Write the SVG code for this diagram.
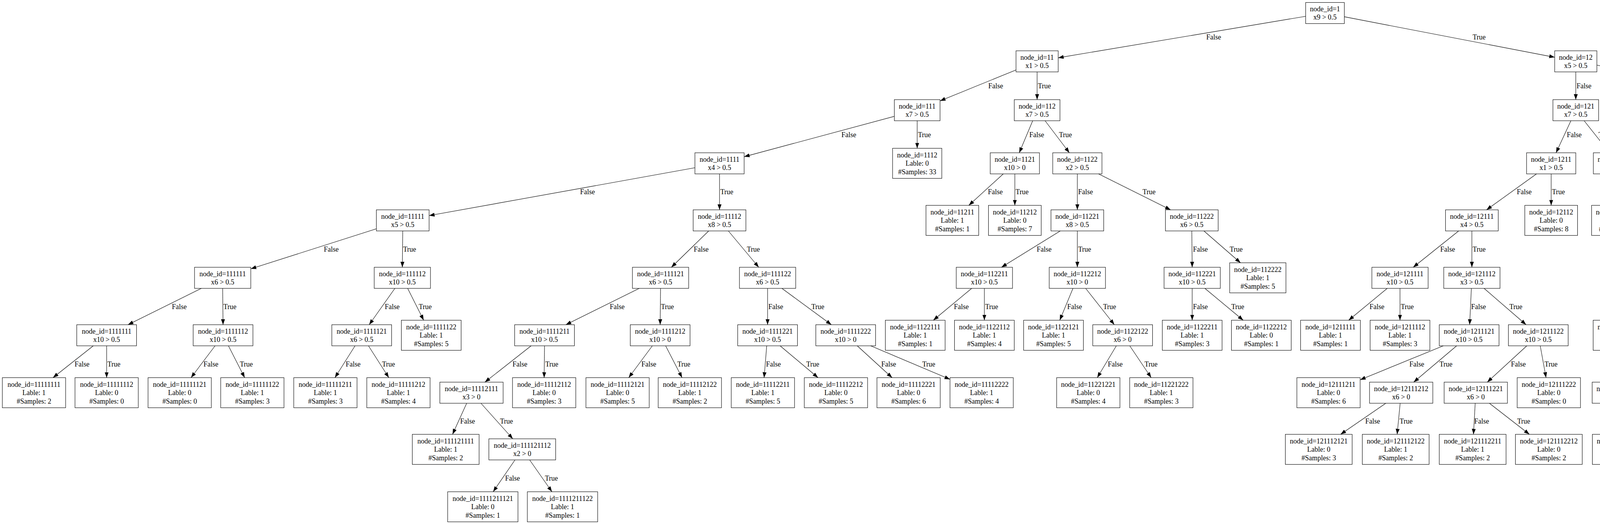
<svg xmlns="http://www.w3.org/2000/svg" width="6772" height="1341" viewBox="0 0 6772 1341">
<style>
text{font-family:"Liberation Serif","Times New Roman",serif;font-size:18px;fill:#000}
.nodes text{text-anchor:middle}
.nodes rect{fill:#fff;stroke:#000;stroke-width:1.1}
.edges line{stroke:#000;stroke-width:1.1;marker-end:url(#ah)}
.edges text{text-anchor:start}
</style>
<defs>
<marker id="ah" viewBox="0 0 14 10" refX="14" refY="5" markerWidth="14" markerHeight="10" markerUnits="userSpaceOnUse" orient="auto"><path d="M0,0L14,5L0,10z" fill="#000"/></marker>
</defs>
<rect width="6772" height="1341" fill="#fff"/>
<g id="connectors" class="edges">
<line x1="3342.5" y1="41.7" x2="2709" y2="147.9"/><text x="3088" y="101">False</text>
<line x1="3441.5" y1="42.9" x2="3980" y2="146.6"/><text x="3770" y="101">True</text>
<line x1="2601" y1="179" x2="2406.5" y2="258.2"/><text x="2530" y="226">False</text>
<line x1="2655" y1="184" x2="2655" y2="255"/><text x="2657" y="226">True</text>
<line x1="4034" y1="184" x2="4034" y2="255"/><text x="4036" y="226">False</text>
<line x1="4088" y1="166.7" x2="4671.5" y2="271.5"/><text x="4444" y="226">True</text>
<line x1="2289.5" y1="297.7" x2="1905" y2="401.1"/><text x="2154" y="351">False</text>
<line x1="2348" y1="309" x2="2348" y2="379.5"/><text x="2350" y="351">True</text>
<line x1="2643.7" y1="309" x2="2609.3" y2="391"/><text x="2635" y="351">False</text>
<line x1="2675.4" y1="309" x2="2737.6" y2="391"/><text x="2711" y="351">True</text>
<line x1="4021.5" y1="309" x2="3983.5" y2="391"/><text x="4011" y="351">False</text>
<line x1="4055.4" y1="309" x2="4120.6" y2="391"/><text x="4092" y="351">True</text>
<line x1="4730" y1="309" x2="4730" y2="391"/><text x="4732" y="351">False</text>
<line x1="4788.5" y1="290.7" x2="5577" y2="408.6"/><text x="5214" y="351">True</text>
<line x1="1779" y1="429.3" x2="1098.5" y2="551.8"/><text x="1485" y="497">False</text>
<line x1="1842" y1="445" x2="1842" y2="537"/><text x="1844" y="497">True</text>
<line x1="2568.4" y1="445" x2="2480.2" y2="525.5"/><text x="2529" y="497">False</text>
<line x1="2598" y1="445" x2="2598" y2="525.5"/><text x="2600" y="497">True</text>
<line x1="2758" y1="445" x2="2758" y2="537"/><text x="2760" y="497">False</text>
<line x1="2812.2" y1="445" x2="2996.8" y2="537"/><text x="2925" y="497">True</text>
<line x1="3933.5" y1="445" x2="3805.5" y2="537"/><text x="3883" y="497">False</text>
<line x1="3971" y1="445" x2="3971" y2="525.5"/><text x="3973" y="497">True</text>
<line x1="4142" y1="445" x2="4142" y2="525.5"/><text x="4144" y="497">False</text>
<line x1="4175.8" y1="445" x2="4291.2" y2="537"/><text x="4246" y="497">True</text>
<line x1="4722.6" y1="445" x2="4700.5" y2="525.5"/><text x="4714" y="497">False</text>
<line x1="4752.2" y1="445" x2="4827.8" y2="537"/><text x="4798" y="497">True</text>
<line x1="5640" y1="445" x2="5640" y2="537"/><text x="5642" y="497">False</text>
<line x1="5703" y1="433.5" x2="6164.5" y2="547.4"/><text x="5972" y="497">True</text>
<line x1="963.5" y1="585.5" x2="642" y2="688"/><text x="829" y="644">False</text>
<line x1="1031" y1="591" x2="1030" y2="684"/><text x="1032" y="644">True</text>
<line x1="1814.3" y1="591" x2="1718.7" y2="684"/><text x="1776" y="644">False</text>
<line x1="1864.6" y1="591" x2="1942.4" y2="684"/><text x="1912" y="644">True</text>
<line x1="2714.3" y1="591" x2="2563.7" y2="684"/><text x="2654" y="644">False</text>
<line x1="2758" y1="591" x2="2758" y2="684"/><text x="2760" y="644">True</text>
<line x1="3051" y1="591" x2="3052" y2="684"/><text x="3054" y="644">False</text>
<line x1="3082" y1="591" x2="3175.7" y2="672.5"/><text x="3148" y="644">True</text>
<line x1="3734.2" y1="591" x2="3617.8" y2="684"/><text x="3687" y="644">False</text>
<line x1="3768" y1="591" x2="3768" y2="684"/><text x="3770" y="644">True</text>
<line x1="4325" y1="591" x2="4325" y2="684"/><text x="4327" y="644">False</text>
<line x1="4362.7" y1="591" x2="4492.3" y2="684"/><text x="4441" y="644">True</text>
<line x1="4839.3" y1="591" x2="4807.2" y2="672.5"/><text x="4825" y="644">False</text>
<line x1="4870" y1="591" x2="4939" y2="684"/><text x="4912" y="644">True</text>
<line x1="5628.4" y1="591" x2="5588.6" y2="684"/><text x="5613" y="644">False</text>
<line x1="5661.1" y1="591" x2="5733.9" y2="684"/><text x="5705" y="644">True</text>
<line x1="6232" y1="591" x2="6232" y2="684"/><text x="6234" y="644">False</text>
<line x1="6280.9" y1="591" x2="6449.1" y2="684"/><text x="6382" y="644">True</text>
<line x1="515.4" y1="738" x2="327.6" y2="831"/><text x="440" y="791">False</text>
<line x1="570" y1="738" x2="571" y2="831"/><text x="572" y="791">True</text>
<line x1="1010.9" y1="738" x2="945.1" y2="831"/><text x="985" y="791">False</text>
<line x1="1043.6" y1="738" x2="1084.6" y2="819.5"/><text x="1072" y="791">True</text>
<line x1="1636.4" y1="738" x2="1448.6" y2="831"/><text x="1561" y="791">False</text>
<line x1="1691" y1="738" x2="1690" y2="831"/><text x="1692" y="791">True</text>
<line x1="1965" y1="738" x2="1965" y2="831"/><text x="1967" y="791">False</text>
<line x1="2001.7" y1="738" x2="2128.3" y2="831"/><text x="2077" y="791">True</text>
<line x1="2487.5" y1="738" x2="2389.4" y2="819.5"/><text x="2442" y="791">False</text>
<line x1="2520" y1="738" x2="2520" y2="819.5"/><text x="2522" y="791">True</text>
<line x1="2746.8" y1="738" x2="2713" y2="819.5"/><text x="2732" y="791">False</text>
<line x1="2779.3" y1="738" x2="2852.7" y2="831"/><text x="2824" y="791">True</text>
<line x1="3052" y1="738" x2="3052" y2="819.5"/><text x="3054" y="791">False</text>
<line x1="3084.5" y1="738" x2="3182.6" y2="819.5"/><text x="3152" y="791">True</text>
<line x1="3551.3" y1="738" x2="3452.6" y2="819.5"/><text x="3506" y="791">False</text>
<line x1="3584" y1="738" x2="3584" y2="819.5"/><text x="3586" y="791">True</text>
<line x1="3766.7" y1="738" x2="3762.3" y2="831"/><text x="3766" y="791">False</text>
<line x1="3799.2" y1="738" x2="3906.8" y2="831"/><text x="3864" y="791">True</text>
<line x1="4293.8" y1="738" x2="4199.5" y2="819.5"/><text x="4251" y="791">False</text>
<line x1="4326.5" y1="738" x2="4331.5" y2="831"/><text x="4330" y="791">True</text>
<line x1="4530" y1="738" x2="4530" y2="831"/><text x="4532" y="791">False</text>
<line x1="4562.7" y1="738" x2="4661.4" y2="819.5"/><text x="4630" y="791">True</text>
<line x1="4947.8" y1="738" x2="4914" y2="819.5"/><text x="4932" y="791">False</text>
<line x1="4980.3" y1="738" x2="5053.7" y2="831"/><text x="5025" y="791">True</text>
<line x1="5544.5" y1="738" x2="5432.5" y2="831"/><text x="5500" y="791">False</text>
<line x1="5577" y1="738" x2="5577" y2="819.5"/><text x="5579" y="791">True</text>
<line x1="5755" y1="738" x2="5754" y2="819.5"/><text x="5756" y="791">False</text>
<line x1="5787.5" y1="738" x2="5899.5" y2="831"/><text x="5854" y="791">True</text>
<line x1="6214" y1="738" x2="6152" y2="831"/><text x="6189" y="791">False</text>
<line x1="6246.7" y1="738" x2="6291" y2="819.5"/><text x="6278" y="791">True</text>
<line x1="6498" y1="738" x2="6498" y2="831"/><text x="6500" y="791">False</text>
<line x1="6530.5" y1="738" x2="6628.6" y2="819.5"/><text x="6599" y="791">True</text>
<line x1="238.8" y1="885" x2="135.7" y2="966.5"/><text x="191" y="938">False</text>
<line x1="273" y1="885" x2="273" y2="966.5"/><text x="275" y="938">True</text>
<line x1="550.6" y1="885" x2="489.1" y2="966.5"/><text x="521" y="938">False</text>
<line x1="584.8" y1="885" x2="626.4" y2="966.5"/><text x="614" y="938">True</text>
<line x1="908.9" y1="885" x2="857.4" y2="966.5"/><text x="885" y="938">False</text>
<line x1="943.3" y1="885" x2="995.4" y2="966.5"/><text x="978" y="938">True</text>
<line x1="1359.7" y1="885" x2="1241.3" y2="978"/><text x="1312" y="938">False</text>
<line x1="1394" y1="885" x2="1393" y2="966.5"/><text x="1396" y="938">True</text>
<line x1="1670" y1="885" x2="1609.5" y2="966.5"/><text x="1642" y="938">False</text>
<line x1="1704" y1="885" x2="1746.1" y2="966.5"/><text x="1734" y="938">True</text>
<line x1="1962.8" y1="885" x2="1956.1" y2="966.5"/><text x="1961" y="938">False</text>
<line x1="1997.1" y1="885" x2="2094.2" y2="966.5"/><text x="2064" y="938">True</text>
<line x1="2194.6" y1="885" x2="2283.8" y2="966.5"/><text x="2256" y="938">False</text>
<line x1="2228.9" y1="885" x2="2432" y2="970.8"/><text x="2361" y="938">True</text>
<line x1="2857.8" y1="885" x2="2809" y2="966.5"/><text x="2836" y="938">False</text>
<line x1="2892.2" y1="885" x2="2947.1" y2="966.5"/><text x="2930" y="938">True</text>
<line x1="3694.9" y1="885" x2="3482" y2="971.9"/><text x="3608" y="938">False</text>
<line x1="3729" y1="885" x2="3619" y2="978"/><text x="3685" y="938">True</text>
<line x1="3908.6" y1="885" x2="3807.4" y2="978"/><text x="3868" y="938">False</text>
<line x1="3943" y1="885" x2="3957.9" y2="966.5"/><text x="3954" y="938">True</text>
<line x1="4300.7" y1="885" x2="4189.3" y2="978"/><text x="4256" y="938">False</text>
<line x1="4335" y1="885" x2="4341.1" y2="966.5"/><text x="4340" y="938">True</text>
<line x1="4530" y1="885" x2="4531" y2="966.5"/><text x="4532" y="938">False</text>
<line x1="4564.3" y1="885" x2="4668" y2="966.5"/><text x="4636" y="938">True</text>
<line x1="5043.6" y1="885" x2="4948.8" y2="966.5"/><text x="5001" y="938">False</text>
<line x1="5077.8" y1="885" x2="5087.2" y2="978"/><text x="5085" y="938">True</text>
<line x1="5396" y1="885" x2="5382" y2="978"/><text x="5391" y="938">False</text>
<line x1="5430.3" y1="885" x2="5521.8" y2="966.5"/><text x="5493" y="938">True</text>
<line x1="5898.9" y1="885" x2="5799.1" y2="966.5"/><text x="5853" y="938">False</text>
<line x1="5933.1" y1="885" x2="5936.4" y2="966.5"/><text x="5937" y="938">True</text>
<line x1="6132.2" y1="885" x2="6126.6" y2="966.5"/><text x="6131" y="938">False</text>
<line x1="6166.7" y1="885" x2="6279.3" y2="978"/><text x="6234" y="938">True</text>
<line x1="6498" y1="885" x2="6498" y2="966.5"/><text x="6500" y="938">False</text>
<line x1="6532.3" y1="885" x2="6636" y2="966.5"/><text x="6604" y="938">True</text>
<line x1="1194.7" y1="1032" x2="1158.5" y2="1111.5"/><text x="1178" y="1084">False</text>
<line x1="1231.2" y1="1032" x2="1312.8" y2="1123"/><text x="1280" y="1084">True</text>
<line x1="3547.7" y1="1032" x2="3432" y2="1111.5"/><text x="3495" y="1084">False</text>
<line x1="3584.4" y1="1032" x2="3576.7" y2="1111.5"/><text x="3583" y="1084">True</text>
<line x1="3776.5" y1="1032" x2="3772.1" y2="1111.5"/><text x="3774" y="1084">False</text>
<line x1="3812.8" y1="1032" x2="3915.3" y2="1111.5"/><text x="3884" y="1084">True</text>
<line x1="4157.9" y1="1032" x2="4160.7" y2="1111.5"/><text x="4161" y="1084">False</text>
<line x1="4194.2" y1="1032" x2="4303.9" y2="1111.5"/><text x="4269" y="1084">True</text>
<line x1="5053.5" y1="1032" x2="4946" y2="1111.5"/><text x="5004" y="1084">False</text>
<line x1="5090" y1="1032" x2="5089" y2="1123"/><text x="5092" y="1084">True</text>
<line x1="5378" y1="1032" x2="5378" y2="1123"/><text x="5380" y="1084">False</text>
<line x1="5438.5" y1="1032" x2="5642.5" y2="1123"/><text x="5561" y="1084">True</text>
<line x1="6293.4" y1="1032" x2="6238.6" y2="1111.5"/><text x="6269" y="1084">False</text>
<line x1="6330.1" y1="1032" x2="6383.2" y2="1111.5"/><text x="6367" y="1084">True</text>
<line x1="1318.4" y1="1177" x2="1262.5" y2="1258.5"/><text x="1293" y="1230">False</text>
<line x1="1355.9" y1="1177" x2="1413" y2="1258.5"/><text x="1395" y="1230">True</text>
<line x1="5051.7" y1="1177" x2="4939.2" y2="1258.5"/><text x="5001" y="1230">False</text>
<line x1="5089" y1="1177" x2="5090" y2="1258.5"/><text x="5091" y="1230">True</text>
<line x1="5362.6" y1="1177" x2="5316" y2="1258.5"/><text x="5341" y="1230">False</text>
<line x1="5400.2" y1="1177" x2="5467.3" y2="1258.5"/><text x="5446" y="1230">True</text>
<line x1="5703" y1="1177" x2="5702" y2="1258.5"/><text x="5705" y="1230">False</text>
<line x1="5740.3" y1="1177" x2="5852.8" y2="1258.5"/><text x="5817" y="1230">True</text>
</g>
<g id="nodes" class="nodes">
<g id="n1"><rect x="3342.5" y="6.4" width="99" height="54"/><text x="3392" y="28.9">node_id=1<tspan x="3392" dy="21.5">x9 &gt; 0.5</tspan></text></g>
<g id="n11"><rect x="2601" y="130" width="108" height="54"/><text x="2655" y="152.5">node_id=11<tspan x="2655" dy="21.5">x1 &gt; 0.5</tspan></text></g>
<g id="n12"><rect x="3980" y="130" width="108" height="54"/><text x="4034" y="152.5">node_id=12<tspan x="4034" dy="21.5">x5 &gt; 0.5</tspan></text></g>
<g id="n111"><rect x="2289.5" y="255" width="117" height="54"/><text x="2348" y="277.5">node_id=111<tspan x="2348" dy="21.5">x7 &gt; 0.5</tspan></text></g>
<g id="n112"><rect x="2596.5" y="255" width="117" height="54"/><text x="2655" y="277.5">node_id=112<tspan x="2655" dy="21.5">x7 &gt; 0.5</tspan></text></g>
<g id="n121"><rect x="3975.5" y="255" width="117" height="54"/><text x="4034" y="277.5">node_id=121<tspan x="4034" dy="21.5">x7 &gt; 0.5</tspan></text></g>
<g id="n122"><rect x="4671.5" y="255" width="117" height="54"/><text x="4730" y="277.5">node_id=122<tspan x="4730" dy="21.5">x4 &gt; 0.5</tspan></text></g>
<g id="n1111"><rect x="1779" y="391" width="126" height="54"/><text x="1842" y="413.5">node_id=1111<tspan x="1842" dy="21.5">x4 &gt; 0.5</tspan></text></g>
<g id="n1112"><rect x="2285" y="379.5" width="126" height="77"/><text x="2348" y="402.5">node_id=1112<tspan x="2348" dy="21.5">Lable: 0</tspan><tspan x="2348" dy="21.5">#Samples: 33</tspan></text></g>
<g id="n1121"><rect x="2535" y="391" width="126" height="54"/><text x="2598" y="413.5">node_id=1121<tspan x="2598" dy="21.5">x10 &gt; 0</tspan></text></g>
<g id="n1122"><rect x="2695" y="391" width="126" height="54"/><text x="2758" y="413.5">node_id=1122<tspan x="2758" dy="21.5">x2 &gt; 0.5</tspan></text></g>
<g id="n1211"><rect x="3908" y="391" width="126" height="54"/><text x="3971" y="413.5">node_id=1211<tspan x="3971" dy="21.5">x1 &gt; 0.5</tspan></text></g>
<g id="n1212"><rect x="4079" y="391" width="126" height="54"/><text x="4142" y="413.5">node_id=1212<tspan x="4142" dy="21.5">x1 &gt; 0.5</tspan></text></g>
<g id="n1221"><rect x="4667" y="391" width="126" height="54"/><text x="4730" y="413.5">node_id=1221<tspan x="4730" dy="21.5">x8 &gt; 0.5</tspan></text></g>
<g id="n1222"><rect x="5577" y="391" width="126" height="54"/><text x="5640" y="413.5">node_id=1222<tspan x="5640" dy="21.5">x8 &gt; 0.5</tspan></text></g>
<g id="n11111"><rect x="963.5" y="537" width="135" height="54"/><text x="1031" y="559.5">node_id=11111<tspan x="1031" dy="21.5">x5 &gt; 0.5</tspan></text></g>
<g id="n11112"><rect x="1774.5" y="537" width="135" height="54"/><text x="1842" y="559.5">node_id=11112<tspan x="1842" dy="21.5">x8 &gt; 0.5</tspan></text></g>
<g id="n11211"><rect x="2370.5" y="525.5" width="135" height="77"/><text x="2438" y="548.5">node_id=11211<tspan x="2438" dy="21.5">Lable: 1</tspan><tspan x="2438" dy="21.5">#Samples: 1</tspan></text></g>
<g id="n11212"><rect x="2530.5" y="525.5" width="135" height="77"/><text x="2598" y="548.5">node_id=11212<tspan x="2598" dy="21.5">Lable: 0</tspan><tspan x="2598" dy="21.5">#Samples: 7</tspan></text></g>
<g id="n11221"><rect x="2690.5" y="537" width="135" height="54"/><text x="2758" y="559.5">node_id=11221<tspan x="2758" dy="21.5">x8 &gt; 0.5</tspan></text></g>
<g id="n11222"><rect x="2983.5" y="537" width="135" height="54"/><text x="3051" y="559.5">node_id=11222<tspan x="3051" dy="21.5">x6 &gt; 0.5</tspan></text></g>
<g id="n12111"><rect x="3700.5" y="537" width="135" height="54"/><text x="3768" y="559.5">node_id=12111<tspan x="3768" dy="21.5">x4 &gt; 0.5</tspan></text></g>
<g id="n12112"><rect x="3903.5" y="525.5" width="135" height="77"/><text x="3971" y="548.5">node_id=12112<tspan x="3971" dy="21.5">Lable: 0</tspan><tspan x="3971" dy="21.5">#Samples: 8</tspan></text></g>
<g id="n12121"><rect x="4074.5" y="525.5" width="135" height="77"/><text x="4142" y="548.5">node_id=12121<tspan x="4142" dy="21.5">Lable: 0</tspan><tspan x="4142" dy="21.5">#Samples: 18</tspan></text></g>
<g id="n12122"><rect x="4257.5" y="537" width="135" height="54"/><text x="4325" y="559.5">node_id=12122<tspan x="4325" dy="21.5">x2 &gt; 0.5</tspan></text></g>
<g id="n12211"><rect x="4622.5" y="525.5" width="135" height="77"/><text x="4690" y="548.5">node_id=12211<tspan x="4690" dy="21.5">Lable: 0</tspan><tspan x="4690" dy="21.5">#Samples: 0</tspan></text></g>
<g id="n12212"><rect x="4782.5" y="537" width="135" height="54"/><text x="4850" y="559.5">node_id=12212<tspan x="4850" dy="21.5">x10 &gt; 0.5</tspan></text></g>
<g id="n12221"><rect x="5572.5" y="537" width="135" height="54"/><text x="5640" y="559.5">node_id=12221<tspan x="5640" dy="21.5">x10 &gt; 0.5</tspan></text></g>
<g id="n12222"><rect x="6164.5" y="537" width="135" height="54"/><text x="6232" y="559.5">node_id=12222<tspan x="6232" dy="21.5">x10 &gt; 0.5</tspan></text></g>
<g id="n111111"><rect x="498" y="684" width="144" height="54"/><text x="570" y="706.5">node_id=111111<tspan x="570" dy="21.5">x6 &gt; 0.5</tspan></text></g>
<g id="n111112"><rect x="958" y="684" width="144" height="54"/><text x="1030" y="706.5">node_id=111112<tspan x="1030" dy="21.5">x10 &gt; 0.5</tspan></text></g>
<g id="n111121"><rect x="1619" y="684" width="144" height="54"/><text x="1691" y="706.5">node_id=111121<tspan x="1691" dy="21.5">x6 &gt; 0.5</tspan></text></g>
<g id="n111122"><rect x="1893" y="684" width="144" height="54"/><text x="1965" y="706.5">node_id=111122<tspan x="1965" dy="21.5">x6 &gt; 0.5</tspan></text></g>
<g id="n112211"><rect x="2448" y="684" width="144" height="54"/><text x="2520" y="706.5">node_id=112211<tspan x="2520" dy="21.5">x10 &gt; 0.5</tspan></text></g>
<g id="n112212"><rect x="2686" y="684" width="144" height="54"/><text x="2758" y="706.5">node_id=112212<tspan x="2758" dy="21.5">x10 &gt; 0</tspan></text></g>
<g id="n112221"><rect x="2980" y="684" width="144" height="54"/><text x="3052" y="706.5">node_id=112221<tspan x="3052" dy="21.5">x10 &gt; 0.5</tspan></text></g>
<g id="n112222"><rect x="3148" y="672.5" width="144" height="77"/><text x="3220" y="695.5">node_id=112222<tspan x="3220" dy="21.5">Lable: 1</tspan><tspan x="3220" dy="21.5">#Samples: 5</tspan></text></g>
<g id="n121111"><rect x="3512" y="684" width="144" height="54"/><text x="3584" y="706.5">node_id=121111<tspan x="3584" dy="21.5">x10 &gt; 0.5</tspan></text></g>
<g id="n121112"><rect x="3696" y="684" width="144" height="54"/><text x="3768" y="706.5">node_id=121112<tspan x="3768" dy="21.5">x3 &gt; 0.5</tspan></text></g>
<g id="n121221"><rect x="4253" y="684" width="144" height="54"/><text x="4325" y="706.5">node_id=121221<tspan x="4325" dy="21.5">x3 &gt; 0.5</tspan></text></g>
<g id="n121222"><rect x="4458" y="684" width="144" height="54"/><text x="4530" y="706.5">node_id=121222<tspan x="4530" dy="21.5">x6 &gt; 0.5</tspan></text></g>
<g id="n122121"><rect x="4720" y="672.5" width="144" height="77"/><text x="4792" y="695.5">node_id=122121<tspan x="4792" dy="21.5">Lable: 1</tspan><tspan x="4792" dy="21.5">#Samples: 2</tspan></text></g>
<g id="n122122"><rect x="4887" y="684" width="144" height="54"/><text x="4959" y="706.5">node_id=122122<tspan x="4959" dy="21.5">x6 &gt; 0.5</tspan></text></g>
<g id="n122211"><rect x="5505" y="684" width="144" height="54"/><text x="5577" y="706.5">node_id=122211<tspan x="5577" dy="21.5">x6 &gt; 0.5</tspan></text></g>
<g id="n122212"><rect x="5683" y="684" width="144" height="54"/><text x="5755" y="706.5">node_id=122212<tspan x="5755" dy="21.5">x6 &gt; 0.5</tspan></text></g>
<g id="n122221"><rect x="6160" y="684" width="144" height="54"/><text x="6232" y="706.5">node_id=122221<tspan x="6232" dy="21.5">x6 &gt; 0.5</tspan></text></g>
<g id="n122222"><rect x="6426" y="684" width="144" height="54"/><text x="6498" y="706.5">node_id=122222<tspan x="6498" dy="21.5">x2 &gt; 0.5</tspan></text></g>
<g id="n1111111"><rect x="196.5" y="831" width="153" height="54"/><text x="273" y="853.5">node_id=1111111<tspan x="273" dy="21.5">x10 &gt; 0.5</tspan></text></g>
<g id="n1111112"><rect x="494.5" y="831" width="153" height="54"/><text x="571" y="853.5">node_id=1111112<tspan x="571" dy="21.5">x10 &gt; 0.5</tspan></text></g>
<g id="n1111121"><rect x="849.5" y="831" width="153" height="54"/><text x="926" y="853.5">node_id=1111121<tspan x="926" dy="21.5">x6 &gt; 0.5</tspan></text></g>
<g id="n1111122"><rect x="1027.5" y="819.5" width="153" height="77"/><text x="1104" y="842.5">node_id=1111122<tspan x="1104" dy="21.5">Lable: 1</tspan><tspan x="1104" dy="21.5">#Samples: 5</tspan></text></g>
<g id="n1111211"><rect x="1317.5" y="831" width="153" height="54"/><text x="1394" y="853.5">node_id=1111211<tspan x="1394" dy="21.5">x10 &gt; 0.5</tspan></text></g>
<g id="n1111212"><rect x="1613.5" y="831" width="153" height="54"/><text x="1690" y="853.5">node_id=1111212<tspan x="1690" dy="21.5">x10 &gt; 0</tspan></text></g>
<g id="n1111221"><rect x="1888.5" y="831" width="153" height="54"/><text x="1965" y="853.5">node_id=1111221<tspan x="1965" dy="21.5">x10 &gt; 0.5</tspan></text></g>
<g id="n1111222"><rect x="2088.5" y="831" width="153" height="54"/><text x="2165" y="853.5">node_id=1111222<tspan x="2165" dy="21.5">x10 &gt; 0</tspan></text></g>
<g id="n1122111"><rect x="2266.5" y="819.5" width="153" height="77"/><text x="2343" y="842.5">node_id=1122111<tspan x="2343" dy="21.5">Lable: 1</tspan><tspan x="2343" dy="21.5">#Samples: 1</tspan></text></g>
<g id="n1122112"><rect x="2443.5" y="819.5" width="153" height="77"/><text x="2520" y="842.5">node_id=1122112<tspan x="2520" dy="21.5">Lable: 1</tspan><tspan x="2520" dy="21.5">#Samples: 4</tspan></text></g>
<g id="n1122121"><rect x="2620.5" y="819.5" width="153" height="77"/><text x="2697" y="842.5">node_id=1122121<tspan x="2697" dy="21.5">Lable: 1</tspan><tspan x="2697" dy="21.5">#Samples: 5</tspan></text></g>
<g id="n1122122"><rect x="2797.5" y="831" width="153" height="54"/><text x="2874" y="853.5">node_id=1122122<tspan x="2874" dy="21.5">x6 &gt; 0</tspan></text></g>
<g id="n1122211"><rect x="2975.5" y="819.5" width="153" height="77"/><text x="3052" y="842.5">node_id=1122211<tspan x="3052" dy="21.5">Lable: 1</tspan><tspan x="3052" dy="21.5">#Samples: 3</tspan></text></g>
<g id="n1122212"><rect x="3152.5" y="819.5" width="153" height="77"/><text x="3229" y="842.5">node_id=1122212<tspan x="3229" dy="21.5">Lable: 0</tspan><tspan x="3229" dy="21.5">#Samples: 1</tspan></text></g>
<g id="n1211111"><rect x="3329.5" y="819.5" width="153" height="77"/><text x="3406" y="842.5">node_id=1211111<tspan x="3406" dy="21.5">Lable: 1</tspan><tspan x="3406" dy="21.5">#Samples: 1</tspan></text></g>
<g id="n1211112"><rect x="3507.5" y="819.5" width="153" height="77"/><text x="3584" y="842.5">node_id=1211112<tspan x="3584" dy="21.5">Lable: 1</tspan><tspan x="3584" dy="21.5">#Samples: 3</tspan></text></g>
<g id="n1211121"><rect x="3684.5" y="831" width="153" height="54"/><text x="3761" y="853.5">node_id=1211121<tspan x="3761" dy="21.5">x10 &gt; 0.5</tspan></text></g>
<g id="n1211122"><rect x="3861.5" y="831" width="153" height="54"/><text x="3938" y="853.5">node_id=1211122<tspan x="3938" dy="21.5">x10 &gt; 0.5</tspan></text></g>
<g id="n1212211"><rect x="4078.5" y="819.5" width="153" height="77"/><text x="4155" y="842.5">node_id=1212211<tspan x="4155" dy="21.5">Lable: 1</tspan><tspan x="4155" dy="21.5">#Samples: 3</tspan></text></g>
<g id="n1212212"><rect x="4256.5" y="831" width="153" height="54"/><text x="4333" y="853.5">node_id=1212212<tspan x="4333" dy="21.5">x6 &gt; 0.5</tspan></text></g>
<g id="n1212221"><rect x="4453.5" y="831" width="153" height="54"/><text x="4530" y="853.5">node_id=1212221<tspan x="4530" dy="21.5">x10 &gt; 0.5</tspan></text></g>
<g id="n1212222"><rect x="4631.5" y="819.5" width="153" height="77"/><text x="4708" y="842.5">node_id=1212222<tspan x="4708" dy="21.5">Lable: 1</tspan><tspan x="4708" dy="21.5">#Samples: 6</tspan></text></g>
<g id="n1221221"><rect x="4821.5" y="819.5" width="153" height="77"/><text x="4898" y="842.5">node_id=1221221<tspan x="4898" dy="21.5">Lable: 0</tspan><tspan x="4898" dy="21.5">#Samples: 0</tspan></text></g>
<g id="n1221222"><rect x="4998.5" y="831" width="153" height="54"/><text x="5075" y="853.5">node_id=1221222<tspan x="5075" dy="21.5">x2 &gt; 0.5</tspan></text></g>
<g id="n1222111"><rect x="5323.5" y="831" width="153" height="54"/><text x="5400" y="853.5">node_id=1222111<tspan x="5400" dy="21.5">x3 &gt; 0.5</tspan></text></g>
<g id="n1222112"><rect x="5500.5" y="819.5" width="153" height="77"/><text x="5577" y="842.5">node_id=1222112<tspan x="5577" dy="21.5">Lable: 0</tspan><tspan x="5577" dy="21.5">#Samples: 5</tspan></text></g>
<g id="n1222121"><rect x="5677.5" y="819.5" width="153" height="77"/><text x="5754" y="842.5">node_id=1222121<tspan x="5754" dy="21.5">Lable: 0</tspan><tspan x="5754" dy="21.5">#Samples: 6</tspan></text></g>
<g id="n1222122"><rect x="5855.5" y="831" width="153" height="54"/><text x="5932" y="853.5">node_id=1222122<tspan x="5932" dy="21.5">x1 &gt; 0.5</tspan></text></g>
<g id="n1222211"><rect x="6057.5" y="831" width="153" height="54"/><text x="6134" y="853.5">node_id=1222211<tspan x="6134" dy="21.5">x7 &gt; 0.5</tspan></text></g>
<g id="n1222212"><rect x="6235.5" y="819.5" width="153" height="77"/><text x="6312" y="842.5">node_id=1222212<tspan x="6312" dy="21.5">Lable: 0</tspan><tspan x="6312" dy="21.5">#Samples: 5</tspan></text></g>
<g id="n1222221"><rect x="6421.5" y="831" width="153" height="54"/><text x="6498" y="853.5">node_id=1222221<tspan x="6498" dy="21.5">x1 &gt; 0.5</tspan></text></g>
<g id="n1222222"><rect x="6598.5" y="819.5" width="153" height="77"/><text x="6675" y="842.5">node_id=1222222<tspan x="6675" dy="21.5">Lable: 0</tspan><tspan x="6675" dy="21.5">#Samples: 5</tspan></text></g>
<g id="n11111111"><rect x="6" y="966.5" width="162" height="77"/><text x="87" y="989.5">node_id=11111111<tspan x="87" dy="21.5">Lable: 1</tspan><tspan x="87" dy="21.5">#Samples: 2</tspan></text></g>
<g id="n11111112"><rect x="192" y="966.5" width="162" height="77"/><text x="273" y="989.5">node_id=11111112<tspan x="273" dy="21.5">Lable: 0</tspan><tspan x="273" dy="21.5">#Samples: 0</tspan></text></g>
<g id="n11111121"><rect x="379" y="966.5" width="162" height="77"/><text x="460" y="989.5">node_id=11111121<tspan x="460" dy="21.5">Lable: 0</tspan><tspan x="460" dy="21.5">#Samples: 0</tspan></text></g>
<g id="n11111122"><rect x="565" y="966.5" width="162" height="77"/><text x="646" y="989.5">node_id=11111122<tspan x="646" dy="21.5">Lable: 1</tspan><tspan x="646" dy="21.5">#Samples: 3</tspan></text></g>
<g id="n11111211"><rect x="752" y="966.5" width="162" height="77"/><text x="833" y="989.5">node_id=11111211<tspan x="833" dy="21.5">Lable: 1</tspan><tspan x="833" dy="21.5">#Samples: 3</tspan></text></g>
<g id="n11111212"><rect x="939" y="966.5" width="162" height="77"/><text x="1020" y="989.5">node_id=11111212<tspan x="1020" dy="21.5">Lable: 1</tspan><tspan x="1020" dy="21.5">#Samples: 4</tspan></text></g>
<g id="n11112111"><rect x="1126" y="978" width="162" height="54"/><text x="1207" y="1000.5">node_id=11112111<tspan x="1207" dy="21.5">x3 &gt; 0</tspan></text></g>
<g id="n11112112"><rect x="1312" y="966.5" width="162" height="77"/><text x="1393" y="989.5">node_id=11112112<tspan x="1393" dy="21.5">Lable: 0</tspan><tspan x="1393" dy="21.5">#Samples: 3</tspan></text></g>
<g id="n11112121"><rect x="1500" y="966.5" width="162" height="77"/><text x="1581" y="989.5">node_id=11112121<tspan x="1581" dy="21.5">Lable: 0</tspan><tspan x="1581" dy="21.5">#Samples: 5</tspan></text></g>
<g id="n11112122"><rect x="1685" y="966.5" width="162" height="77"/><text x="1766" y="989.5">node_id=11112122<tspan x="1766" dy="21.5">Lable: 1</tspan><tspan x="1766" dy="21.5">#Samples: 2</tspan></text></g>
<g id="n11112211"><rect x="1872" y="966.5" width="162" height="77"/><text x="1953" y="989.5">node_id=11112211<tspan x="1953" dy="21.5">Lable: 1</tspan><tspan x="1953" dy="21.5">#Samples: 5</tspan></text></g>
<g id="n11112212"><rect x="2059" y="966.5" width="162" height="77"/><text x="2140" y="989.5">node_id=11112212<tspan x="2140" dy="21.5">Lable: 0</tspan><tspan x="2140" dy="21.5">#Samples: 5</tspan></text></g>
<g id="n11112221"><rect x="2245" y="966.5" width="162" height="77"/><text x="2326" y="989.5">node_id=11112221<tspan x="2326" dy="21.5">Lable: 0</tspan><tspan x="2326" dy="21.5">#Samples: 6</tspan></text></g>
<g id="n11112222"><rect x="2432" y="966.5" width="162" height="77"/><text x="2513" y="989.5">node_id=11112222<tspan x="2513" dy="21.5">Lable: 1</tspan><tspan x="2513" dy="21.5">#Samples: 4</tspan></text></g>
<g id="n11221221"><rect x="2705" y="966.5" width="162" height="77"/><text x="2786" y="989.5">node_id=11221221<tspan x="2786" dy="21.5">Lable: 0</tspan><tspan x="2786" dy="21.5">#Samples: 4</tspan></text></g>
<g id="n11221222"><rect x="2892" y="966.5" width="162" height="77"/><text x="2973" y="989.5">node_id=11221222<tspan x="2973" dy="21.5">Lable: 1</tspan><tspan x="2973" dy="21.5">#Samples: 3</tspan></text></g>
<g id="n12111211"><rect x="3320" y="966.5" width="162" height="77"/><text x="3401" y="989.5">node_id=12111211<tspan x="3401" dy="21.5">Lable: 0</tspan><tspan x="3401" dy="21.5">#Samples: 6</tspan></text></g>
<g id="n12111212"><rect x="3506" y="978" width="162" height="54"/><text x="3587" y="1000.5">node_id=12111212<tspan x="3587" dy="21.5">x6 &gt; 0</tspan></text></g>
<g id="n12111221"><rect x="3697" y="978" width="162" height="54"/><text x="3778" y="1000.5">node_id=12111221<tspan x="3778" dy="21.5">x6 &gt; 0</tspan></text></g>
<g id="n12111222"><rect x="3884" y="966.5" width="162" height="77"/><text x="3965" y="989.5">node_id=12111222<tspan x="3965" dy="21.5">Lable: 0</tspan><tspan x="3965" dy="21.5">#Samples: 0</tspan></text></g>
<g id="n12122121"><rect x="4076" y="978" width="162" height="54"/><text x="4157" y="1000.5">node_id=12122121<tspan x="4157" dy="21.5">x10 &gt; 0</tspan></text></g>
<g id="n12122122"><rect x="4263" y="966.5" width="162" height="77"/><text x="4344" y="989.5">node_id=12122122<tspan x="4344" dy="21.5">Lable: 0</tspan><tspan x="4344" dy="21.5">#Samples: 0</tspan></text></g>
<g id="n12122211"><rect x="4450" y="966.5" width="162" height="77"/><text x="4531" y="989.5">node_id=12122211<tspan x="4531" dy="21.5">Lable: 1</tspan><tspan x="4531" dy="21.5">#Samples: 5</tspan></text></g>
<g id="n12122212"><rect x="4636" y="966.5" width="162" height="77"/><text x="4717" y="989.5">node_id=12122212<tspan x="4717" dy="21.5">Lable: 0</tspan><tspan x="4717" dy="21.5">#Samples: 1</tspan></text></g>
<g id="n12212221"><rect x="4823" y="966.5" width="162" height="77"/><text x="4904" y="989.5">node_id=12212221<tspan x="4904" dy="21.5">Lable: 1</tspan><tspan x="4904" dy="21.5">#Samples: 1</tspan></text></g>
<g id="n12212222"><rect x="5009" y="978" width="162" height="54"/><text x="5090" y="1000.5">node_id=12212222<tspan x="5090" dy="21.5">x1 &gt; 0.5</tspan></text></g>
<g id="n12221111"><rect x="5297" y="978" width="162" height="54"/><text x="5378" y="1000.5">node_id=12221111<tspan x="5378" dy="21.5">x1 &gt; 0.5</tspan></text></g>
<g id="n12221112"><rect x="5484" y="966.5" width="162" height="77"/><text x="5565" y="989.5">node_id=12221112<tspan x="5565" dy="21.5">Lable: 1</tspan><tspan x="5565" dy="21.5">#Samples: 6</tspan></text></g>
<g id="n12221221"><rect x="5671" y="966.5" width="162" height="77"/><text x="5752" y="989.5">node_id=12221221<tspan x="5752" dy="21.5">Lable: 0</tspan><tspan x="5752" dy="21.5">#Samples: 3</tspan></text></g>
<g id="n12221222"><rect x="5857" y="966.5" width="162" height="77"/><text x="5938" y="989.5">node_id=12221222<tspan x="5938" dy="21.5">Lable: 1</tspan><tspan x="5938" dy="21.5">#Samples: 2</tspan></text></g>
<g id="n12222111"><rect x="6043" y="966.5" width="162" height="77"/><text x="6124" y="989.5">node_id=12222111<tspan x="6124" dy="21.5">Lable: 1</tspan><tspan x="6124" dy="21.5">#Samples: 1</tspan></text></g>
<g id="n12222112"><rect x="6231" y="978" width="162" height="54"/><text x="6312" y="1000.5">node_id=12222112<tspan x="6312" dy="21.5">x1 &gt; 0</tspan></text></g>
<g id="n12222211"><rect x="6417" y="966.5" width="162" height="77"/><text x="6498" y="989.5">node_id=12222211<tspan x="6498" dy="21.5">Lable: 0</tspan><tspan x="6498" dy="21.5">#Samples: 4</tspan></text></g>
<g id="n12222212"><rect x="6604" y="966.5" width="162" height="77"/><text x="6685" y="989.5">node_id=12222212<tspan x="6685" dy="21.5">Lable: 0</tspan><tspan x="6685" dy="21.5">#Samples: 2</tspan></text></g>
<g id="n111121111"><rect x="1055.5" y="1111.5" width="171" height="77"/><text x="1141" y="1134.5">node_id=111121111<tspan x="1141" dy="21.5">Lable: 1</tspan><tspan x="1141" dy="21.5">#Samples: 2</tspan></text></g>
<g id="n111121112"><rect x="1251.5" y="1123" width="171" height="54"/><text x="1337" y="1145.5">node_id=111121112<tspan x="1337" dy="21.5">x2 &gt; 0</tspan></text></g>
<g id="n121112121"><rect x="3290.5" y="1111.5" width="171" height="77"/><text x="3376" y="1134.5">node_id=121112121<tspan x="3376" dy="21.5">Lable: 0</tspan><tspan x="3376" dy="21.5">#Samples: 3</tspan></text></g>
<g id="n121112122"><rect x="3487.5" y="1111.5" width="171" height="77"/><text x="3573" y="1134.5">node_id=121112122<tspan x="3573" dy="21.5">Lable: 1</tspan><tspan x="3573" dy="21.5">#Samples: 2</tspan></text></g>
<g id="n121112211"><rect x="3684.5" y="1111.5" width="171" height="77"/><text x="3770" y="1134.5">node_id=121112211<tspan x="3770" dy="21.5">Lable: 1</tspan><tspan x="3770" dy="21.5">#Samples: 2</tspan></text></g>
<g id="n121112212"><rect x="3879.5" y="1111.5" width="171" height="77"/><text x="3965" y="1134.5">node_id=121112212<tspan x="3965" dy="21.5">Lable: 0</tspan><tspan x="3965" dy="21.5">#Samples: 2</tspan></text></g>
<g id="n121221211"><rect x="4076.5" y="1111.5" width="171" height="77"/><text x="4162" y="1134.5">node_id=121221211<tspan x="4162" dy="21.5">Lable: 1</tspan><tspan x="4162" dy="21.5">#Samples: 1</tspan></text></g>
<g id="n121221212"><rect x="4271.5" y="1111.5" width="171" height="77"/><text x="4357" y="1134.5">node_id=121221212<tspan x="4357" dy="21.5">Lable: 0</tspan><tspan x="4357" dy="21.5">#Samples: 1</tspan></text></g>
<g id="n122122221"><rect x="4808.5" y="1111.5" width="171" height="77"/><text x="4894" y="1134.5">node_id=122122221<tspan x="4894" dy="21.5">Lable: 1</tspan><tspan x="4894" dy="21.5">#Samples: 1</tspan></text></g>
<g id="n122122222"><rect x="5003.5" y="1123" width="171" height="54"/><text x="5089" y="1145.5">node_id=122122222<tspan x="5089" dy="21.5">x7 &gt; 0.5</tspan></text></g>
<g id="n122211111"><rect x="5292.5" y="1123" width="171" height="54"/><text x="5378" y="1145.5">node_id=122211111<tspan x="5378" dy="21.5">x2 &gt; 0.5</tspan></text></g>
<g id="n122211112"><rect x="5617.5" y="1123" width="171" height="54"/><text x="5703" y="1145.5">node_id=122211112<tspan x="5703" dy="21.5">x2 &gt; 0.5</tspan></text></g>
<g id="n122221121"><rect x="6126.5" y="1111.5" width="171" height="77"/><text x="6212" y="1134.5">node_id=122221121<tspan x="6212" dy="21.5">Lable: 0</tspan><tspan x="6212" dy="21.5">#Samples: 3</tspan></text></g>
<g id="n122221122"><rect x="6323.5" y="1111.5" width="171" height="77"/><text x="6409" y="1134.5">node_id=122221122<tspan x="6409" dy="21.5">Lable: 1</tspan><tspan x="6409" dy="21.5">#Samples: 1</tspan></text></g>
<g id="n1111211121"><rect x="1146" y="1258.5" width="180" height="77"/><text x="1236" y="1281.5">node_id=1111211121<tspan x="1236" dy="21.5">Lable: 0</tspan><tspan x="1236" dy="21.5">#Samples: 1</tspan></text></g>
<g id="n1111211122"><rect x="1350" y="1258.5" width="180" height="77"/><text x="1440" y="1281.5">node_id=1111211122<tspan x="1440" dy="21.5">Lable: 1</tspan><tspan x="1440" dy="21.5">#Samples: 1</tspan></text></g>
<g id="n1221222221"><rect x="4796" y="1258.5" width="180" height="77"/><text x="4886" y="1281.5">node_id=1221222221<tspan x="4886" dy="21.5">Lable: 0</tspan><tspan x="4886" dy="21.5">#Samples: 0</tspan></text></g>
<g id="n1221222222"><rect x="5000" y="1258.5" width="180" height="77"/><text x="5090" y="1281.5">node_id=1221222222<tspan x="5090" dy="21.5">Lable: 1</tspan><tspan x="5090" dy="21.5">#Samples: 1</tspan></text></g>
<g id="n1222111111"><rect x="5204" y="1258.5" width="180" height="77"/><text x="5294" y="1281.5">node_id=1222111111<tspan x="5294" dy="21.5">Lable: 0</tspan><tspan x="5294" dy="21.5">#Samples: 0</tspan></text></g>
<g id="n1222111112"><rect x="5409" y="1258.5" width="180" height="77"/><text x="5499" y="1281.5">node_id=1222111112<tspan x="5499" dy="21.5">Lable: 1</tspan><tspan x="5499" dy="21.5">#Samples: 1</tspan></text></g>
<g id="n1222111121"><rect x="5612" y="1258.5" width="180" height="77"/><text x="5702" y="1281.5">node_id=1222111121<tspan x="5702" dy="21.5">Lable: 1</tspan><tspan x="5702" dy="21.5">#Samples: 1</tspan></text></g>
<g id="n1222111122"><rect x="5816" y="1258.5" width="180" height="77"/><text x="5906" y="1281.5">node_id=1222111122<tspan x="5906" dy="21.5">Lable: 0</tspan><tspan x="5906" dy="21.5">#Samples: 0</tspan></text></g>
</g>
</svg>
